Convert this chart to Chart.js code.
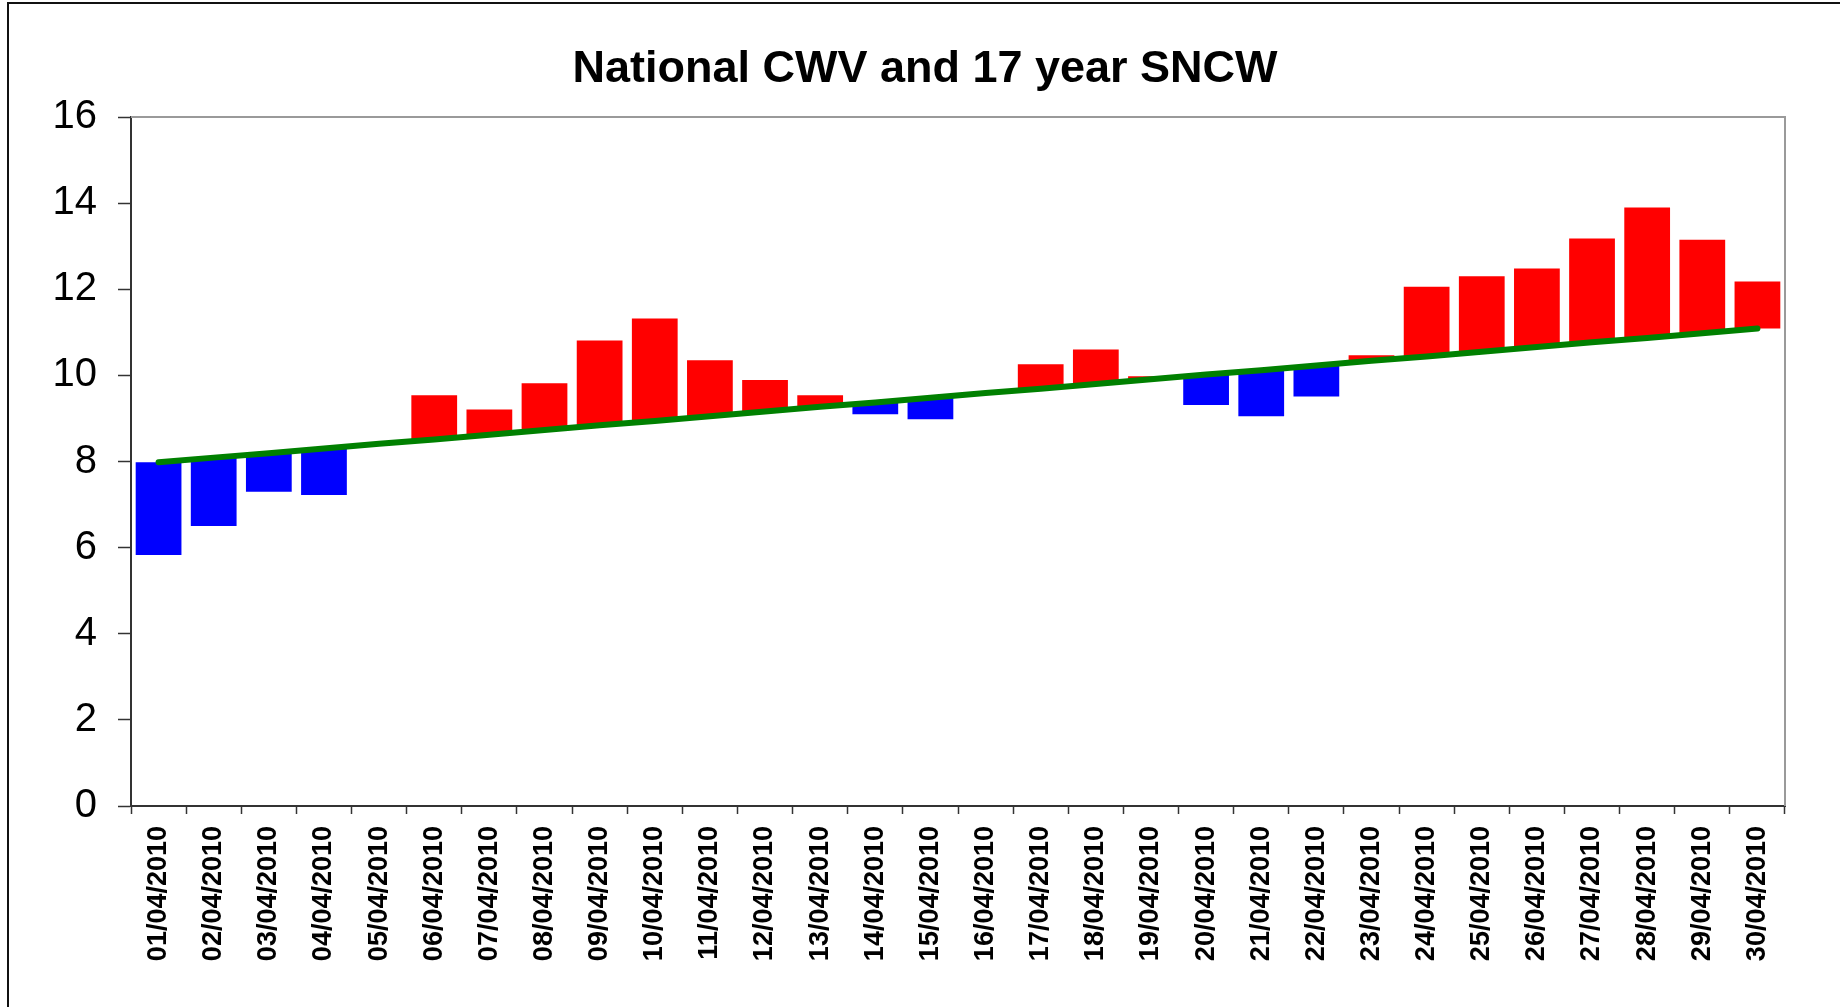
<!DOCTYPE html>
<html>
<head>
<meta charset="utf-8">
<title>National CWV and 17 year SNCW</title>
<script src="https://cdn.jsdelivr.net/npm/chart.js@4/dist/chart.umd.min.js"></script>
<style>
  html, body { margin: 0; padding: 0; background: #fff; }
  #wrap { width: 1840px; height: 1007px; }
</style>
</head>
<body>
<div id="wrap"><canvas id="cwvChart" width="1840" height="1007"></canvas></div>
<script>
// Dates along the x axis
const days = [
  "01/04/2010", "02/04/2010", "03/04/2010", "04/04/2010", "05/04/2010",
  "06/04/2010", "07/04/2010", "08/04/2010", "09/04/2010", "10/04/2010",
  "11/04/2010", "12/04/2010", "13/04/2010", "14/04/2010", "15/04/2010",
  "16/04/2010", "17/04/2010", "18/04/2010", "19/04/2010", "20/04/2010",
  "21/04/2010", "22/04/2010", "23/04/2010", "24/04/2010", "25/04/2010",
  "26/04/2010", "27/04/2010", "28/04/2010", "29/04/2010", "30/04/2010"
];

// National CWV (top / bottom of each bar)
const cwv = [
  5.83, 6.50, 7.30, 7.22, 8.41, 9.54, 9.21, 9.82, 10.81, 11.32,
  10.35, 9.89, 9.54, 9.10, 8.98, 9.59, 10.26, 10.60, 9.98, 9.31,
  9.05, 9.51, 10.47, 12.06, 12.30, 12.48, 13.18, 13.90, 13.15, 12.18
];

// 17 year seasonal normal (green line)
const sncw = [
  7.98, 8.09, 8.19, 8.30, 8.41, 8.51, 8.62, 8.73, 8.84, 8.94,
  9.05, 9.16, 9.27, 9.37, 9.48, 9.59, 9.69, 9.80, 9.91, 10.02,
  10.12, 10.23, 10.34, 10.44, 10.55, 10.66, 10.77, 10.87, 10.98, 11.09
];

const yTicks = [0, 2, 4, 6, 8, 10, 12, 14, 16];

const FONT = "'Liberation Sans', Arial, sans-serif";

// white page, outer chart frame, and grey top/right edge of the plot
const framePlugin = {
  id: "frame",
  beforeDraw(chart) {
    const ctx = chart.ctx;
    ctx.save();
    ctx.fillStyle = "#fff";
    ctx.fillRect(0, 0, chart.width, chart.height);
    ctx.strokeStyle = "#111";
    ctx.lineWidth = 2;
    ctx.strokeRect(8, 3, chart.width + 20, chart.height + 20);
    ctx.restore();
  },
  beforeDatasetsDraw(chart) {
    const { ctx, chartArea: a } = chart;
    ctx.save();
    ctx.strokeStyle = "#9a9a9a";
    ctx.lineWidth = 2;
    ctx.beginPath();
    ctx.moveTo(a.left, a.top);
    ctx.lineTo(a.right, a.top);
    ctx.lineTo(a.right, a.bottom);
    ctx.stroke();
    ctx.restore();
  }
};

const ctx = document.getElementById("cwvChart").getContext("2d");

new Chart(ctx, {
  type: "bar",
  data: {
    labels: days,
    datasets: [
      {
        type: "line",
        label: "17 year SNCW",
        data: sncw,
        borderColor: "#008000",
        borderWidth: 6,
        borderCapStyle: "round",
        pointRadius: 0,
        tension: 0,
        order: 0
      },
      {
        label: "National CWV",
        data: cwv.map((v, i) => [sncw[i], v]),
        backgroundColor: cwv.map((v, i) => (v >= sncw[i] ? "#ff0000" : "#0000ff")),
        borderWidth: 0,
        barPercentage: 0.83,
        categoryPercentage: 1.0,
        order: 1
      }
    ]
  },
  options: {
    responsive: false,
    animation: false,
    layout: { padding: { left: 10, right: 0, top: 0, bottom: 0 } },
    plugins: {
      legend: { display: false },
      tooltip: { enabled: false },
      title: {
        display: true,
        text: "National CWV and 17 year SNCW",
        color: "#000",
        font: { family: FONT, size: 45, weight: "bold", lineHeight: 1.2 },
        padding: { top: 43, bottom: 20 }
      }
    },
    scales: {
      x: {
        grid: {
          offset: true,
          drawOnChartArea: false,
          drawTicks: true,
          tickLength: 8,
          tickColor: "#333",
          tickWidth: 1.5
        },
        border: { color: "#333", width: 2 },
        ticks: {
          autoSkip: false,
          minRotation: 90,
          maxRotation: 90,
          padding: 12,
          color: "#000",
          font: { family: FONT, size: 27, weight: "bold" }
        },
        afterFit(scale) { scale.height = 201; }
      },
      y: {
        min: 0,
        max: 16,
        afterBuildTicks(scale) { scale.ticks = yTicks.map(v => ({ value: v })); },
        grid: {
          drawOnChartArea: false,
          drawTicks: true,
          tickLength: 13,
          tickColor: "#333",
          tickWidth: 1.5
        },
        border: { color: "#333", width: 2 },
        ticks: {
          padding: 21,
          color: "#000",
          font: { family: FONT, size: 40 }
        },
        afterFit(scale) { scale.width = 121; }
      },
      // empty axis that only keeps the gap right of the plot
      yRight: {
        position: "right",
        display: true,
        grid: { display: false },
        border: { display: false },
        ticks: { display: false },
        afterFit(scale) { scale.width = 55; }
      }
    }
  },
  plugins: [framePlugin]
});
</script>
</body>
</html>
